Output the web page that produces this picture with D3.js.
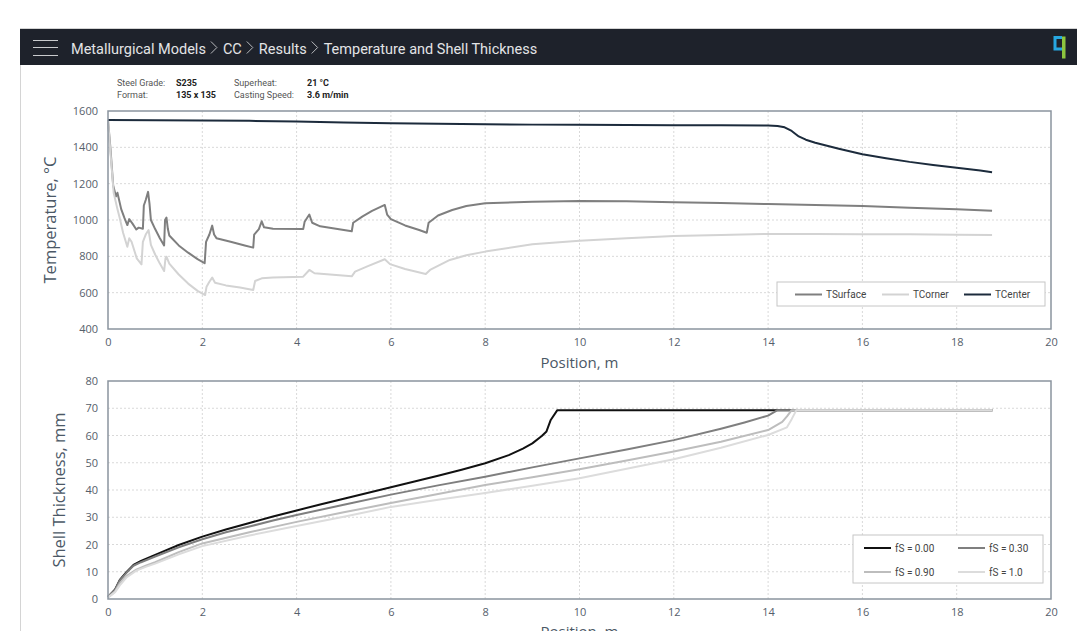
<!DOCTYPE html>
<html>
<head>
<meta charset="utf-8">
<script src="https://cdn.jsdelivr.net/npm/d3@7"></script>
<style>
  body { margin: 0; background: #fff; }
  svg { display: block; }
</style>
</head>
<body>
<div id="chart"></div>
<script>
"use strict";

// ---- data ----
const breadcrumb = ["Metallurgical Models", "CC", "Results", "Temperature and Shell Thickness"];
const infoLabels = [["Steel Grade:", "S235", "Superheat:", "21 °C"], ["Format:", "135 x 135", "Casting Speed:", "3.6 m/min"]];

const xTicks = [0, 2, 4, 6, 8, 10, 12, 14, 16, 18, 20];
const tempTicks = [400, 600, 800, 1000, 1200, 1400, 1600];
const shellTicks = [0, 10, 20, 30, 40, 50, 60, 70, 80];

// temperature [position m, °C]
const tSurface = [[0,1550],[0.05,1400],[0.11,1190],[0.17,1130],[0.2,1150],[0.28,1060],[0.35,1010],[0.41,972],[0.45,1005],[0.52,980],[0.6,948],[0.65,958],[0.74,952],[0.76,1080],[0.8,1110],[0.85,1155],[0.88,1090],[0.91,1000],[1.0,950],[1.1,900],[1.19,860],[1.21,1000],[1.24,1013],[1.27,950],[1.3,915],[1.5,860],[1.7,820],[1.9,785],[2.05,762],[2.08,880],[2.15,920],[2.21,969],[2.25,920],[2.3,900],[2.6,880],[2.9,860],[3.08,848],[3.1,920],[3.2,950],[3.26,993],[3.31,960],[3.5,952],[4.14,950],[4.17,990],[4.27,1030],[4.33,985],[4.5,965],[5.17,938],[5.2,985],[5.4,1020],[5.6,1050],[5.87,1083],[5.92,1030],[6.0,1005],[6.3,970],[6.6,945],[6.76,930],[6.8,985],[7.0,1025],[7.3,1055],[7.6,1077],[8,1092],[9,1101],[10,1105],[11,1103],[12,1098],[13,1093],[14,1088],[15,1082],[16,1077],[17,1068],[18,1059],[18.75,1051]];
const tCorner = [[0,1550],[0.05,1380],[0.12,1150],[0.2,1060],[0.25,1009],[0.32,930],[0.41,853],[0.45,899],[0.5,880],[0.61,789],[0.71,756],[0.74,880],[0.8,920],[0.86,945],[0.91,863],[1.0,810],[1.1,760],[1.19,719],[1.22,790],[1.24,798],[1.3,760],[1.5,700],[1.7,650],[1.9,610],[2.06,587],[2.09,633],[2.15,660],[2.21,683],[2.27,655],[2.5,640],[2.8,628],[3.08,615],[3.12,664],[3.26,679],[3.5,683],[4.14,688],[4.27,725],[4.38,707],[5.17,690],[5.24,716],[5.5,745],[5.87,784],[5.98,757],[6.3,730],[6.74,703],[6.83,725],[7.25,780],[7.6,806],[8,826],[9,866],[10,886],[11,900],[12,912],[13,918],[14,923],[15,923],[16,922],[17,921],[18,919],[18.75,918]];
const tCenter = [[0,1550],[1,1549],[2,1548],[3,1546],[4,1542],[5,1537],[6,1533],[7,1530],[8,1527],[9,1525],[10,1524],[11,1523],[12,1522],[13,1521],[14,1520],[14.2,1518],[14.35,1510],[14.5,1490],[14.65,1460],[14.8,1442],[15,1425],[15.5,1392],[16,1362],[16.5,1340],[17,1320],[17.5,1303],[18,1287],[18.5,1272],[18.75,1263]];

// shell thickness [position m, mm]
const fs000 = [[0,0.8],[0.15,3.5],[0.25,7],[0.4,10],[0.54,12.5],[0.7,14],[1,16.2],[1.5,19.8],[2,22.9],[2.5,25.5],[3,27.9],[3.5,30.3],[4,32.5],[4.5,34.7],[5,36.8],[5.5,38.9],[6,41],[6.5,43.1],[7,45.2],[7.5,47.4],[8,49.8],[8.5,52.8],[8.8,55.2],[9.0,57.1],[9.2,59.8],[9.3,61.5],[9.39,65.7],[9.53,69.3],[18.76,69.3]];
const fs030 = [[0,0.8],[0.15,3.3],[0.25,6.8],[0.4,9.8],[0.54,12.2],[0.7,13.5],[1,15.6],[1.5,19],[2,21.9],[2.5,24.5],[3,26.6],[3.5,28.8],[4,30.8],[5,34.6],[6,38.3],[7,41.7],[8,44.9],[9,48.3],[10,51.6],[11,54.9],[12,58.3],[13,62.5],[13.5,64.8],[14,67.3],[14.2,69.3],[18.76,69.3]];
const fs090 = [[0,0.6],[0.15,2.8],[0.25,5.8],[0.4,8.5],[0.6,10.8],[0.8,12.2],[1,13.5],[1.5,17.2],[2,20.4],[3,24.5],[4,28.3],[5,31.8],[6,35.2],[7,38.5],[8,41.8],[9,44.7],[10,47.6],[11,50.8],[12,54.1],[13,57.7],[14,62],[14.3,65],[14.4,67],[14.5,69.3],[18.76,69.3]];
const fs100 = [[0,0.5],[0.15,2.5],[0.25,5],[0.4,8],[0.6,10.4],[0.8,11.8],[1,13],[1.5,16.4],[2,19.4],[3,23.3],[4,26.8],[5,30.2],[6,33.8],[7,36.4],[8,38.9],[9,41.6],[10,44.3],[11,47.8],[12,51.3],[13,55.5],[14,60.2],[14.4,63],[14.5,66],[14.6,69.3],[18.76,69.3]];

const tempSeries = [
    {name: "TSurface", data: tSurface, color: "#7f7f7f"},
    {name: "TCorner",  data: tCorner,  color: "#d3d3d3"},
    {name: "TCenter",  data: tCenter,  color: "#1c2b3c"},
];
const shellSeries = [
    {name: "fS = 0.00", data: fs000, color: "#111111"},
    {name: "fS = 0.30", data: fs030, color: "#7f7f7f"},
    {name: "fS = 0.90", data: fs090, color: "#bdbdbd"},
    {name: "fS = 1.0",  data: fs100, color: "#dcdcdc"},
];

const W = 1077, H = 631;
const fontUi = "Roboto, 'Open Sans', sans-serif";
const fontAxis = "'Open Sans', 'Noto Sans', sans-serif";
const axisColor = "#8a949e";
const tickColor = "#56606b";
const titleColor = "#4b5866";

const svg = d3.select("#chart").append("svg")
    .attr("width", W).attr("height", H);

// ---- page frame & header ----
svg.append("rect").attr("x", 20.5).attr("y", 28.5).attr("width", W).attr("height", H)
    .attr("fill", "#fff").attr("stroke", "#d4d4d4");
svg.append("rect").attr("x", 20).attr("y", 29).attr("width", W - 20).attr("height", 36)
    .attr("fill", "#1e222b");

[40.5, 47.5, 55.5].forEach(y => {
    svg.append("line").attr("x1", 33).attr("x2", 58).attr("y1", y).attr("y2", y)
        .attr("stroke", "#c9cbce").attr("stroke-width", 1);
});

let cx = 71;
breadcrumb.forEach((t, i) => {
    const txt = svg.append("text").attr("x", cx).attr("y", 54)
        .style("font-family", fontUi).style("font-size", "14.5px")
        .attr("fill", "#e3e4e6").text(t);
    cx += txt.node().getComputedTextLength();
    if (i < breadcrumb.length - 1) {
        cx += 5;
        svg.append("path")
            .attr("d", `M${cx},41.5 L${cx + 6},47.5 L${cx},53.5`)
            .attr("fill", "none").attr("stroke", "#b8babd").attr("stroke-width", 1);
        cx += 12;
    }
});

// logo
svg.append("path").attr("d", "M1062,37.5 H1055 V49 H1062")
    .attr("fill", "none").attr("stroke", "#27a7e1").attr("stroke-width", 3);
svg.append("rect").attr("x", 1062).attr("y", 36.5).attr("width", 3.5).attr("height", 22)
    .attr("fill", "#8dc63f");

// info block
const infoX = [117, 176, 234, 307];
infoLabels.forEach((row, r) => {
    row.forEach((t, c) => {
        svg.append("text").attr("x", infoX[c]).attr("y", 85.5 + r * 12.5)
            .style("font-family", fontUi).style("font-size", "9px")
            .style("font-weight", c % 2 ? "bold" : "normal")
            .attr("fill", c % 2 ? "#222" : "#555")
            .text(t);
    });
});

// ---- chart helper ----
function drawPanel(opts) {
    const x = d3.scaleLinear([0, 20], [108, 1051]);
    const y = d3.scaleLinear(opts.yDomain, [opts.bottom, opts.top]);
    const g = svg.append("g");

    // grid
    g.append("g").selectAll("line").data(xTicks.slice(1, -1)).join("line")
        .attr("x1", d => x(d)).attr("x2", d => x(d))
        .attr("y1", opts.top).attr("y2", opts.bottom)
        .attr("stroke", "#d9d9d9").attr("stroke-dasharray", "2,2");
    g.append("g").selectAll("line").data(opts.yTicks.slice(1, -1)).join("line")
        .attr("x1", x(0)).attr("x2", x(20))
        .attr("y1", d => y(d)).attr("y2", d => y(d))
        .attr("stroke", "#d9d9d9").attr("stroke-dasharray", "2,2");

    // axes
    const ax = g.append("g").attr("transform", `translate(0,${opts.bottom})`)
        .call(d3.axisBottom(x).tickValues(xTicks).tickFormat(d3.format("d")).tickSize(0).tickPadding(9));
    const ay = g.append("g").attr("transform", `translate(${x(0)},0)`)
        .call(d3.axisLeft(y).tickValues(opts.yTicks).tickFormat(d3.format("d")).tickSize(0).tickPadding(10));
    [ax, ay].forEach(a => {
        a.select(".domain").remove();
        a.selectAll("text").style("font-family", fontAxis).style("font-size", "11px")
            .attr("fill", tickColor);
    });

    // lines
    const line = d3.line().x(d => x(d[0])).y(d => y(d[1]));
    g.append("g").selectAll("path").data(opts.series).join("path")
        .attr("d", d => line(d.data))
        .attr("fill", "none")
        .attr("stroke", d => d.color)
        .attr("stroke-width", 2)
        .attr("stroke-linejoin", "round");

    // frame
    g.append("rect").attr("x", x(0)).attr("y", opts.top)
        .attr("width", x(20) - x(0)).attr("height", opts.bottom - opts.top)
        .attr("fill", "none").attr("stroke", axisColor).attr("stroke-width", 1.5);

    // titles
    g.append("text").attr("x", (x(0) + x(20)) / 2).attr("y", opts.xTitleY)
        .attr("text-anchor", "middle")
        .style("font-family", fontAxis).style("font-size", "15px")
        .attr("fill", titleColor).text("Position, m");
    g.append("text")
        .attr("transform", `translate(${opts.yTitleX},${(opts.top + opts.bottom) / 2}) rotate(-90)`)
        .attr("text-anchor", "middle")
        .style("font-family", fontAxis).style("font-size", "16.5px")
        .attr("fill", titleColor).text(opts.yTitle);

    // legend
    const L = opts.legend;
    g.append("rect").attr("x", L.x).attr("y", L.y).attr("width", L.w).attr("height", L.h)
        .attr("fill", "#fff").attr("stroke", "#c6c6c6");
    const items = g.append("g").selectAll("g").data(opts.series).join("g")
        .attr("transform", (d, i) => `translate(${L.pos[i][0]},${L.pos[i][1]})`);
    items.append("line").attr("x1", 0).attr("x2", 27)
        .attr("stroke", d => d.color).attr("stroke-width", 2);
    items.append("text").attr("x", 31).attr("dy", "0.35em")
        .style("font-family", fontUi).style("font-size", "10px")
        .attr("fill", "#444").text(d => d.name);
}

drawPanel({
    top: 111, bottom: 329, yDomain: [400, 1600], yTicks: tempTicks,
    series: tempSeries, xTitleY: 368, yTitleX: 56, yTitle: "Temperature, °C",
    legend: {x: 777, y: 282, w: 268, h: 24, pos: [[795, 294.5], [882, 294.5], [964, 294.5]]}
});

drawPanel({
    top: 381, bottom: 599, yDomain: [0, 80], yTicks: shellTicks,
    series: shellSeries, xTitleY: 637, yTitleX: 65, yTitle: "Shell Thickness, mm",
    legend: {x: 853, y: 535, w: 190, h: 48, pos: [[864, 548], [958, 548], [864, 572], [958, 572]]}
});
</script>
</body>
</html>
